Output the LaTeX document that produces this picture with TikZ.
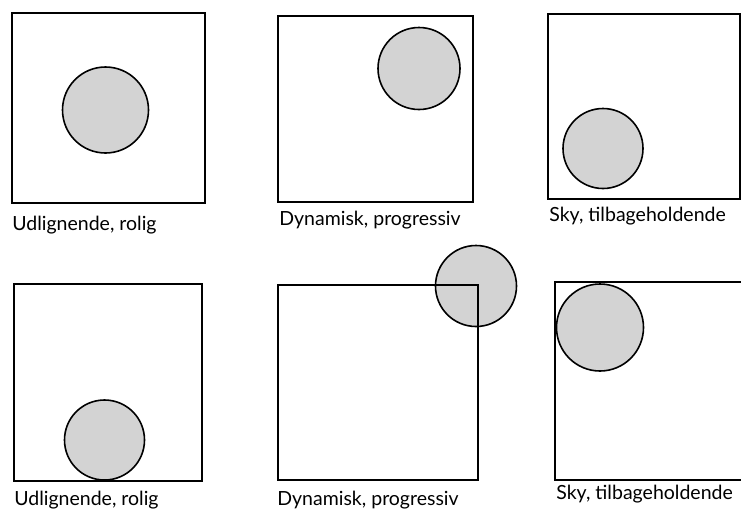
\documentclass[tikz,border=0pt]{standalone}
\usepackage{fontspec}
\setmainfont{Lato}
\usepackage{xcolor}
\usetikzlibrary{positioning}
\definecolor{discgray}{RGB}{211,211,211}

\begin{document}
\begin{tikzpicture}[x=1pt,y=-1pt,
          frame/.style={draw,line width=1.6pt,inner sep=0pt},
          disc/.style={circle,draw,fill=discgray,line width=1.6pt,inner sep=0pt},
          lbl/.style={inner sep=0pt,font=\fontsize{19.5}{22}\selectfont}]
          \useasboundingbox (0,0) rectangle (741,517);
          \clip (0,0) rectangle (741,517);
          % discs first, frames on top
          \node[disc,minimum size=86pt](c1) at (105.5,110){};
          \node[disc,minimum size=82pt](c2) at (419,68.5){};
          \node[disc,minimum size=80pt](c3) at (603,148.5){};
          \node[disc,minimum size=80pt](c4) at (104.5,440){};
          \node[disc,minimum size=81pt](c5) at (476,286){};
          \node[disc,minimum size=87pt](c6) at (600,327.5){};
          % frames
          \node[frame,minimum width=193pt,minimum height=190pt](s1) at (108.5,108){};
          \node[frame,minimum width=195pt,minimum height=186pt](s2) at (375.5,109){};
          \node[frame,minimum width=192pt,minimum height=185pt](s3) at (644,106.5){};
          \node[frame,minimum width=188pt,minimum height=197pt](s4) at (108,382.5){};
          \node[frame,minimum width=200pt,minimum height=195pt](s5) at (378,382.5){};
          \node[frame,minimum width=196pt,minimum height=198pt](s6) at (653,381){};
          % captions
          \node[lbl,below right=12pt and 1pt of s1.south west](l1){Udlignende, rolig};
          \node[lbl,below right=8pt and 2pt of s2.south west](l2){Dynamisk, progressiv};
          \node[lbl,below right=7pt and 2pt of s3.south west](l3){Sky, tilbageholdende};
          \node[lbl,below right=9pt and 1pt of s4.south west](l4){Udlignende, rolig};
          \node[lbl,below right=10pt and 0pt of s5.south west](l5){Dynamisk, progressiv};
          \node[lbl,below right=4pt and 2pt of s6.south west](l6){Sky, tilbageholdende};
        \end{tikzpicture}
\end{document}
